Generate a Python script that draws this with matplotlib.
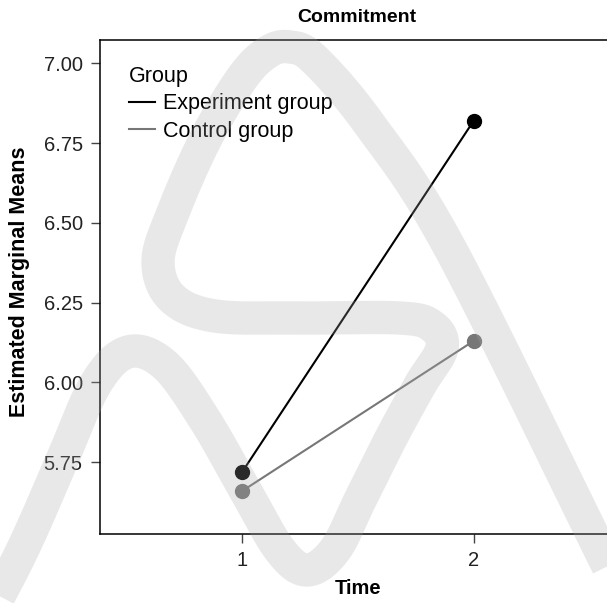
import numpy as np
import matplotlib
matplotlib.use("Agg")
import matplotlib.pyplot as plt
from matplotlib.path import Path
from matplotlib.patches import PathPatch

plt.rcParams['font.family'] = ['Liberation Sans', 'DejaVu Sans']

# data
time_points = [1, 2]
groups = ['Experiment group', 'Control group']
experiment = [5.72, 6.82]
control = [5.66, 6.13]
colors = ['#000000', '#777777']
y_ticks = [5.75, 6.00, 6.25, 6.50, 6.75, 7.00]

W, H = 607, 603
fig = plt.figure(figsize=(W / 100, H / 100), dpi=100)
ax = fig.add_axes([100 / W, 1 - 534 / H, 516 / W, 494 / H])
ax.set_facecolor('none')

for vals, name, c in zip([experiment, control], groups, colors):
    ax.plot(time_points, vals, color=c, lw=1.5, marker='o', ms=10,
            label=name, zorder=3)

ax.set_xlim(0.385, 2.615)
ax.set_ylim(5.525, 7.073)
ax.set_xticks(time_points)
ax.set_yticks(y_ticks)
ax.set_yticklabels([f'{v:.2f}' for v in y_ticks])
ax.tick_params(labelsize=14.5, length=6.5, width=1, pad=6, color='#444444',
               labelcolor='#222222')
ax.spines['right'].set_visible(False)
for s in ['left', 'bottom', 'top']:
    ax.spines[s].set_linewidth(1.1)

ax.set_xlabel('Time', fontsize=14.5, fontweight='bold', labelpad=6)
ax.set_ylabel('Estimated Marginal Means', fontsize=15.5, fontweight='bold',
              labelpad=10)
ax.yaxis.label.set_y(0.51)
fig.text(357 / W, 1 - 18 / H, 'Commitment', fontsize=14, fontweight='bold',
         ha='center', va='center')

leg = ax.legend(title='Group', loc='upper left', frameon=False,
                bbox_to_anchor=(118 / W, 1 - 55 / H),
                bbox_transform=fig.transFigure, fontsize=15.5,
                title_fontsize=15.5, handlelength=1.2, handletextpad=0.4,
                labelspacing=0.3, alignment='left', borderpad=0)
for h in leg.legend_handles:
    h.set_marker('')


# watermark: thick translucent stroke (pixel coords, y down)
def smooth(pts, n=20):
    p = np.array(pts, float)
    p = np.vstack([p[0], p, p[-1]])
    out = []
    for i in range(1, len(p) - 2):
        p0, p1, p2, p3 = p[i - 1], p[i], p[i + 1], p[i + 2]
        for t in np.linspace(0, 1, n, endpoint=False):
            out.append(0.5 * ((2 * p1) + (-p0 + p2) * t +
                              (2 * p0 - 5 * p1 + 4 * p2 - p3) * t ** 2 +
                              (-p0 + 3 * p1 - 3 * p2 + p3) * t ** 3))
    out.append(p[-2])
    return np.array(out)


wm = [(-30, 650), (20, 555), (60, 465), (95, 385), (128, 352), (165, 365),
      (205, 420), (245, 490), (280, 550), (307, 570), (335, 550), (360, 500),
      (390, 440), (420, 385), (442, 348), (432, 326), (400, 318), (300, 318),
      (215, 316), (172, 298), (158, 262), (172, 215), (205, 140), (242, 78),
      (268, 52), (290, 47), (315, 60), (370, 125), (451, 250), (605, 560),
      (650, 650)]
xy = smooth(wm)
xy[:, 0] = xy[:, 0] / W
xy[:, 1] = 1 - xy[:, 1] / H
fig.patches.append(PathPatch(Path(xy), transform=fig.transFigure,
                             facecolor='none', edgecolor='#a5a5a5', alpha=0.25,
                             lw=24, capstyle='butt', joinstyle='round',
                             zorder=10))

fig.savefig('out.png', dpi=100)
